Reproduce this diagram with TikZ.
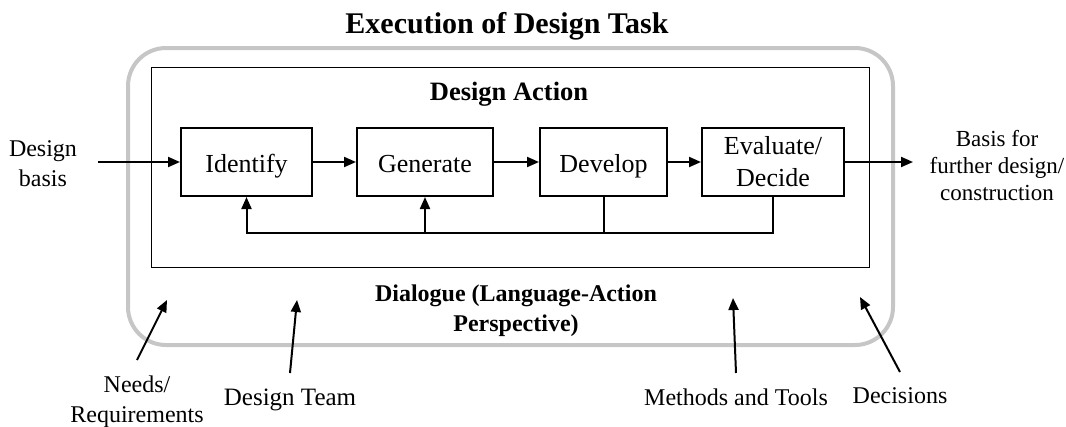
\documentclass[tikz,border=0pt]{standalone}
\usepackage{fontspec}
\setmainfont{Liberation Serif}
\usetikzlibrary{arrows.meta}
\definecolor{outergray}{HTML}{C6C6C6}
\tikzset{
  stepbox/.style={draw=black, line width=2pt, minimum height=68pt, inner sep=0pt, align=center, font=\fontsize{26}{32}\selectfont},
  onebox/.style={stepbox, text height=22pt, text depth=2pt},
  arr/.style={line width=2pt, -{Triangle[length=12pt,width=10pt]}},
  plain/.style={line width=2pt},
  lbl/.style={align=center, inner sep=0pt, font=\fontsize{24}{30}\selectfont},
}
\begin{document}
\begin{tikzpicture}[x=1pt,y=-1pt]
\useasboundingbox (0,0) rectangle (1066,426);
% title
\node[anchor=base, inner sep=0pt, font=\fontsize{30}{34}\selectfont\bfseries] (title) at (507,33) {Execution of Design Task};
% outer dialogue frame
\draw[outergray, line width=4pt, rounded corners=38pt] (128,48) rectangle (893,345);
% inner design action frame
\draw[black, line width=1pt] (151,67) rectangle (869,267);
\node[anchor=base, inner sep=0pt, font=\fontsize{26.5}{30}\selectfont\bfseries] (da) at (509,100) {Design Action};
% step boxes
\node[onebox, minimum width=131pt] (ident) at (246.5,162) {Identify};
\node[onebox, minimum width=136pt] (gen) at (425,162) {Generate};
\node[onebox, minimum width=127pt] (dev) at (603.5,162) {Develop};
\node[stepbox, minimum width=142pt] (eval) at (773,162) {Evaluate/\\Decide};
% main flow
\coordinate (inp) at (98,162);
\coordinate (outp) at (913,162);
\draw[arr] (inp) -- (ident.west);
\draw[arr] (ident.east) -- (gen.west);
\draw[arr] (gen.east) -- (dev.west);
\draw[arr] (dev.east) -- (eval.west);
\draw[arr] (eval.east) -- (outp);
% feedback
\coordinate (fb) at (0,233);
\draw[arr] (eval.south) -- (eval.south |- fb) -| (ident.south);
\draw[plain] (dev.south) -- (dev.south |- fb);
\draw[arr] (gen.south |- fb) -- (gen.south);
% side labels
\node[lbl] (basis) at (43,164) {Design\\basis};
\node[lbl, font=\fontsize{23}{27}\selectfont] (further) at (997,166) {Basis for\\further design/\\construction};
\node[lbl, font=\fontsize{24}{30}\selectfont\bfseries] (dialogue) at (516,311) {Dialogue (Language-Action\\Perspective)};
% bottom labels
\node[lbl] (needs) at (137,402) {Needs/\\Requirements};
\node[lbl, anchor=base, font=\fontsize{25}{30}\selectfont] (team) at (290,405) {Design Team};
\node[lbl, anchor=base] (methods) at (736,405) {Methods and Tools};
\node[lbl, anchor=base] (decisions) at (900,403) {Decisions};
% bottom arrows
\coordinate (needsT) at (137,360);
\coordinate (needsH) at (167,300);
\coordinate (teamT) at (290,373);
\coordinate (teamH) at (297,300);
\coordinate (methT) at (736,373);
\coordinate (methH) at (733,298);
\coordinate (decT) at (900,372);
\coordinate (decH) at (860,297);
\draw[arr] (needsT) -- (needsH);
\draw[arr] (teamT) -- (teamH);
\draw[arr] (methT) -- (methH);
\draw[arr] (decT) -- (decH);
\end{tikzpicture}
\end{document}
